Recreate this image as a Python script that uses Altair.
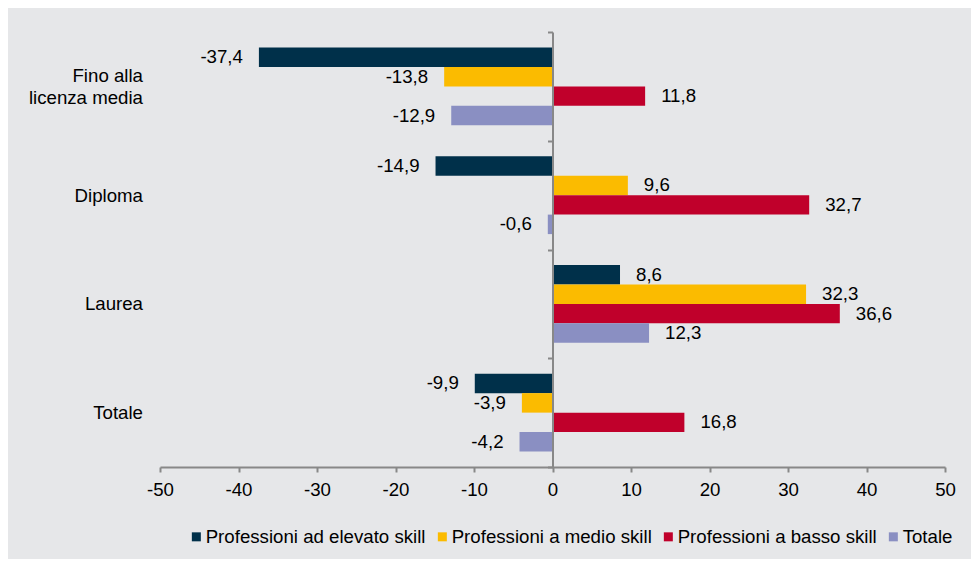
import altair as alt
import pandas as pd

categories = ["Fino alla licenza media", "Diploma", "Laurea", "Totale"]
series = [
    "Professioni ad elevato skill",
    "Professioni a medio skill",
    "Professioni a basso skill",
    "Totale",
]
elevato = [-37.4, -14.9, 8.6, -9.9]
medio = [-13.8, 9.6, 32.3, -3.9]
basso = [11.8, 32.7, 36.6, 16.8]
totale = [-12.9, -0.6, 12.3, -4.2]
x_ticks = [-50, -40, -30, -20, -10, 0, 10, 20, 30, 40, 50]
colors = ["#00304a", "#fbbb00", "#c0002b", "#8a8fc2"]

FONT = "Liberation Sans, Arial, sans-serif"
FS = 18.67
GREY = "#888888"

rows = []
for s, vals in zip(series, [elevato, medio, basso, totale]):
    for c, v in zip(categories, vals):
        rows.append({"categoria": c, "serie": s, "valore": v,
                     "etichetta": f"{v:.1f}".replace(".", ",")})
df = pd.DataFrame(rows)

base = alt.Chart(df).encode(
    y=alt.Y(
        "categoria:N",
        sort=categories,
        scale=alt.Scale(paddingInner=0, paddingOuter=0),
        axis=alt.Axis(
            title=None, orient="left", offset=-392.5, tickBand="extent",
            tickSize=5, tickColor=GREY, tickWidth=2, domainColor=GREY,
            domainWidth=2, labelPadding=405, labelAlign="right",
            labelBaseline="middle", labelFontSize=FS, labelFont=FONT,
            labelColor="#000000", labelLineHeight=22, grid=False, zindex=1,
            labelOffset={"condition": {"test": "datum.value == 'Fino alla licenza media'",
                                       "value": -11}, "value": 0},
            labelExpr="datum.label == 'Fino alla licenza media' ? ['Fino alla', 'licenza media'] : datum.label",
        ),
    ),
    yOffset=alt.YOffset(
        "serie:N", sort=series,
        scale=alt.Scale(paddingInner=0, paddingOuter=0.79),
    ),
    x=alt.X(
        "valore:Q",
        scale=alt.Scale(domain=[-50, 50], nice=False, zero=False),
        axis=alt.Axis(
            title=None, values=x_ticks, tickSize=5, tickColor=GREY,
            tickWidth=2, domainColor=GREY, domainWidth=2, labelPadding=8,
            labelFontSize=FS, labelFont=FONT, labelColor="#000000",
            labelFlush=False, labelOverlap=False, grid=False,
            labelExpr="toString(datum.value)",
        ),
    ),
)

bars = base.mark_bar(cornerRadius=0).encode(
    color=alt.Color(
        "serie:N",
        sort=series,
        scale=alt.Scale(domain=series, range=colors),
        legend=alt.Legend(
            title=None, orient="none", legendX=27, legendY=495,
            direction="horizontal", symbolType="square", symbolSize=81,
            symbolStrokeWidth=0, labelOffset=0, columnPadding=7,
            labelFontSize=FS, labelFont=FONT, labelColor="#000000",
            labelLimit=0, padding=0,
        ),
    )
)

pos = base.mark_text(align="left", baseline="middle", dx=16, fontSize=FS,
                     font=FONT, color="#000000").encode(
    text="etichetta:N"
).transform_filter("datum.valore >= 0")

neg = base.mark_text(align="right", baseline="middle", dx=-16, fontSize=FS,
                     font=FONT, color="#000000").encode(
    text="etichetta:N"
).transform_filter("datum.valore < 0")

chart = (
    alt.layer(bars, pos, neg)
    .properties(
        width=785, height=435,
        autosize=alt.AutoSizeParams(type="none"),
        padding={"left": 152, "top": 24, "right": 26, "bottom": 92},
        background="#e6e7e9",
    )
    .configure_view(stroke=None)
)

chart.save("out.html", embed_options={"renderer": "svg", "actions": False})
